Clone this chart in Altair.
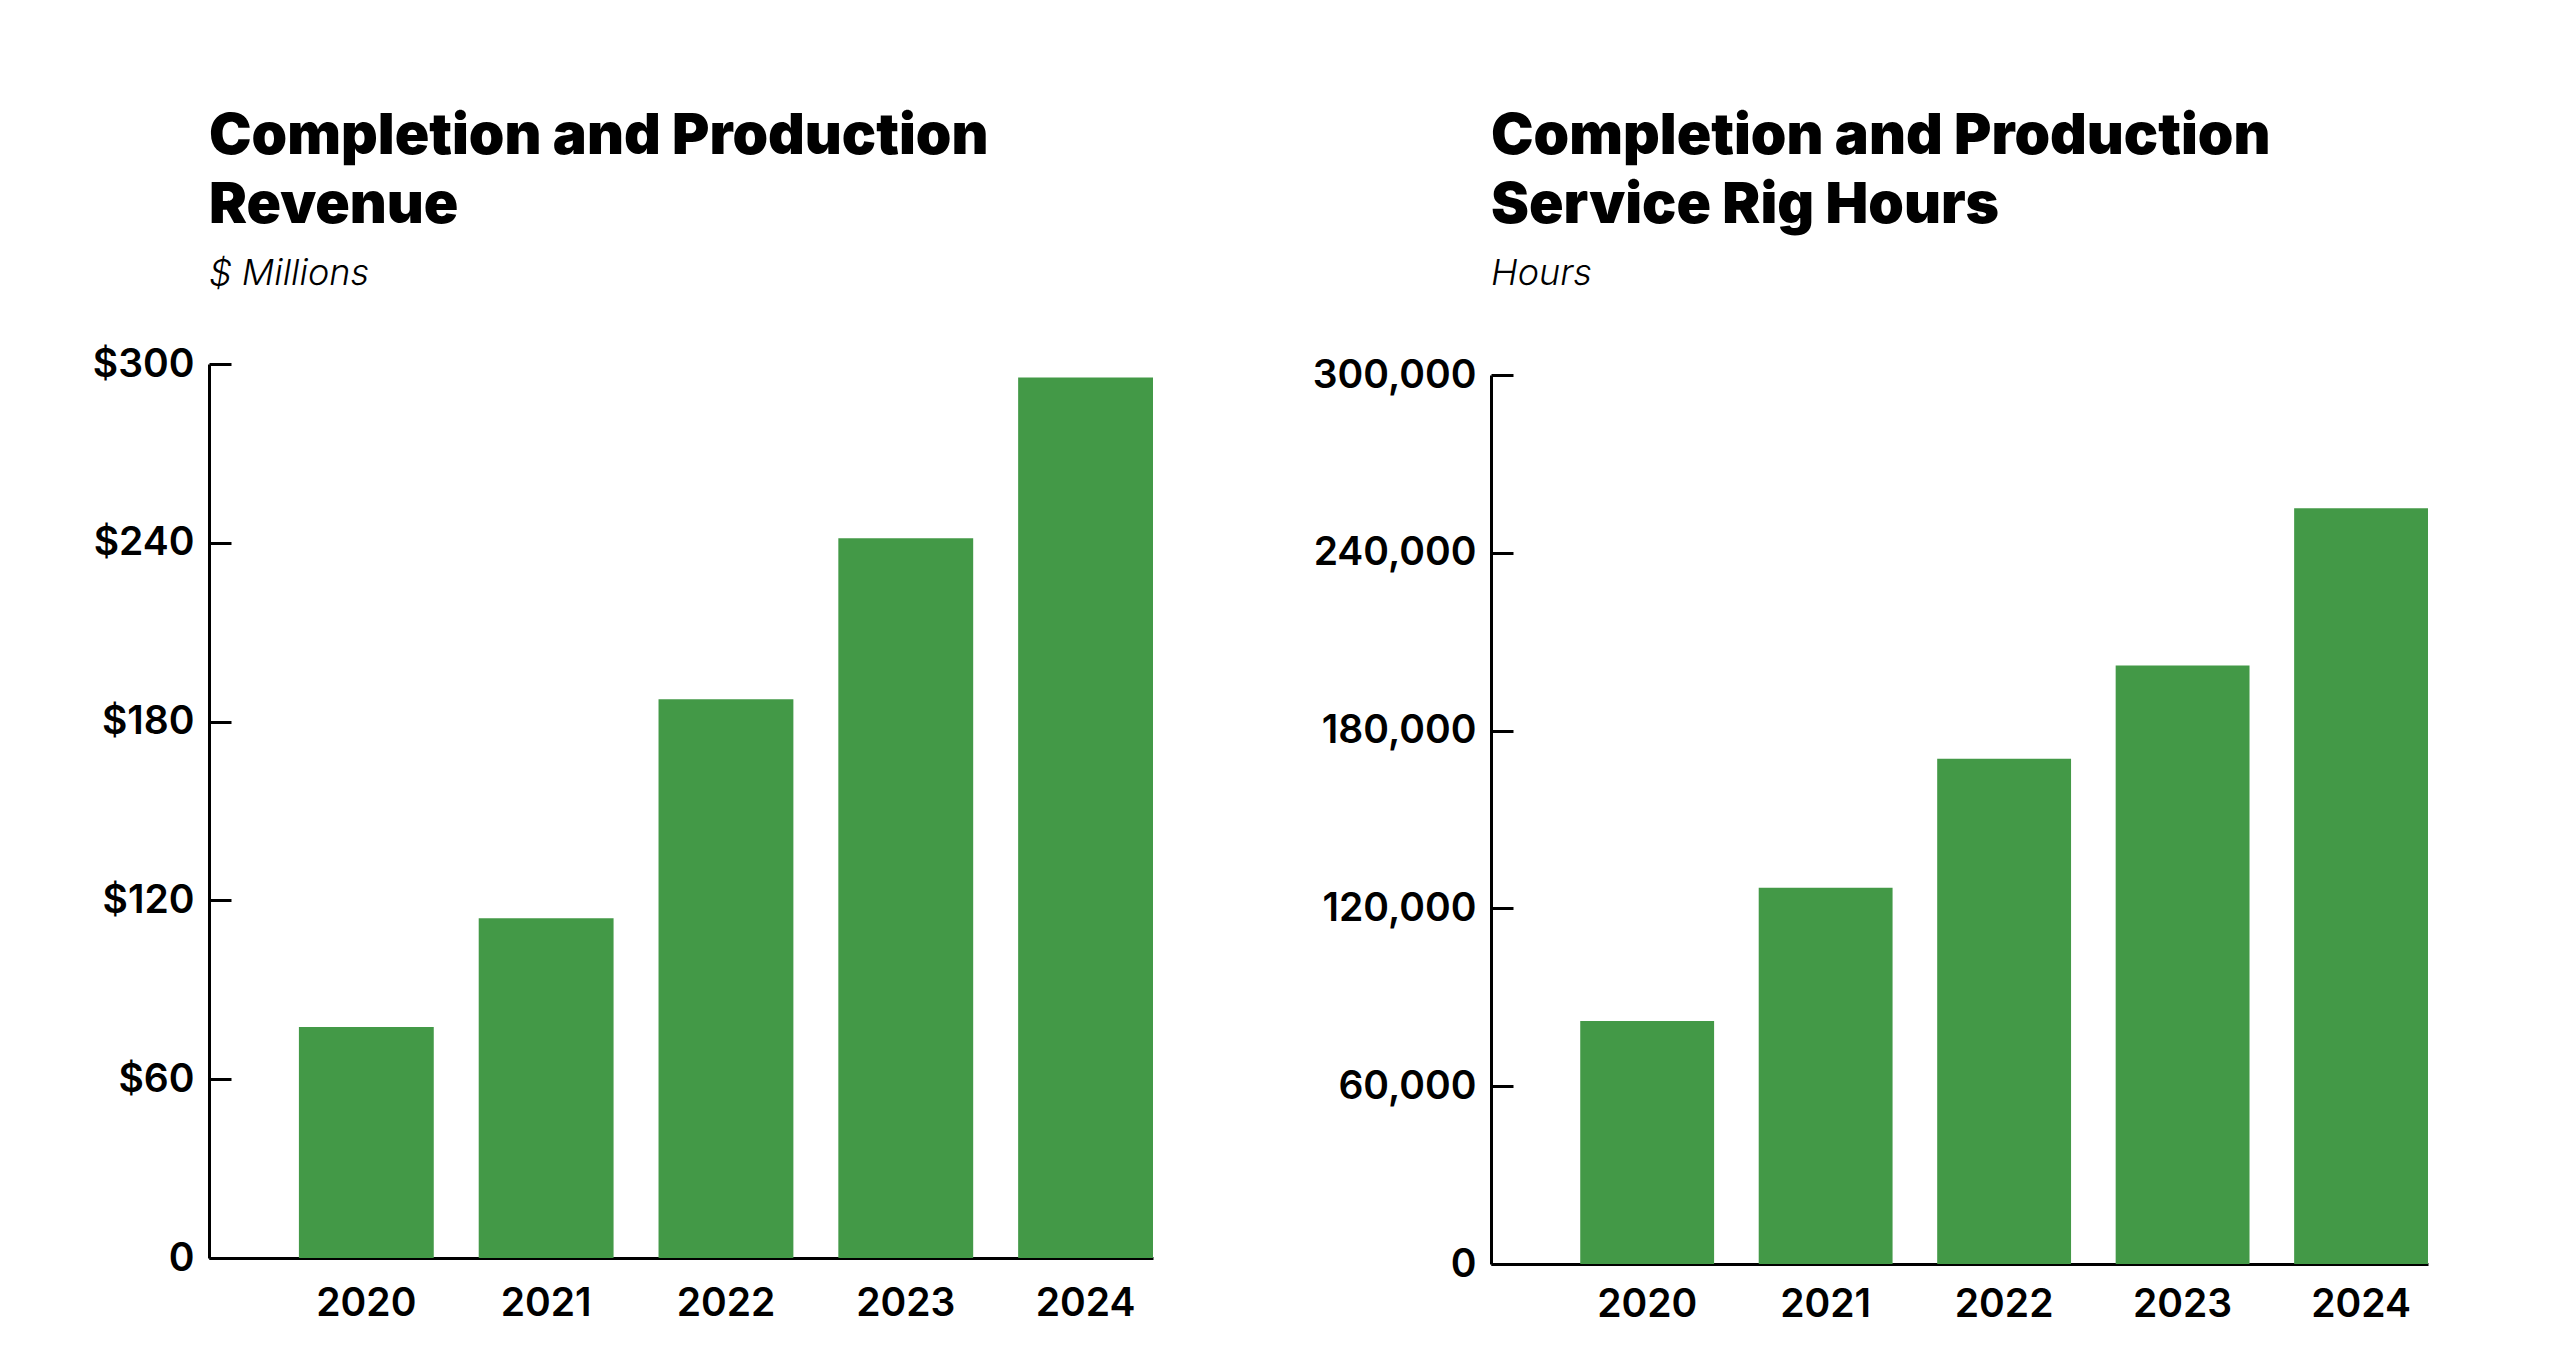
import altair as alt
import pandas as pd

years = ["2020", "2021", "2022", "2023", "2024"]
revenue = [77.5, 114, 187.5, 241.5, 295.5]          # $ Millions
rig_hours = [82000, 127000, 170500, 202000, 255000]  # Hours

rev_ticks = [0, 60, 120, 180, 240, 300]
hour_ticks = [0, 60000, 120000, 180000, 240000, 300000]

GREEN = "#439947"
FONT = "Inter"
LABEL_SIZE = 39
NO_VIEW = alt.ViewBackground(stroke="transparent", strokeWidth=0, fill="transparent")


def panel(values, ticks, title_lines, subtitle, label_expr, W, H, top_gap, xpad):
    df = pd.DataFrame({"year": years, "value": values})
    ymax = ticks[-1]
    yscale = alt.Scale(domain=[0, ymax], nice=False, zero=True, range=[H, top_gap])
    xenc = alt.X(
        "year:N",
        sort=years,
        title=None,
        scale=alt.Scale(paddingInner=0.25, paddingOuter=0.25, align=1),
        axis=alt.Axis(
            orient="bottom", domain=True, domainColor="black", domainWidth=3,
            ticks=False, grid=False, labelAngle=0, labelPadding=xpad,
            labelFont=FONT, labelFontSize=LABEL_SIZE, labelFontWeight=600, labelColor="black",
        ),
    )
    bars = alt.Chart(df).mark_bar(color=GREEN).encode(
        x=xenc,
        y=alt.Y(
            "value:Q", scale=yscale, title=None,
            axis=alt.Axis(
                orient="left", values=ticks, labelExpr=label_expr,
                domain=True, domainColor="black", domainWidth=3,
                ticks=False, grid=False, labelPadding=15,
                labelFont=FONT, labelFontSize=LABEL_SIZE, labelFontWeight=600, labelColor="black",
            ),
        ),
    )
    inner_ticks = alt.Chart(df).mark_bar(opacity=0).encode(
        x=xenc,
        y=alt.Y(
            "value:Q", scale=yscale, title=None,
            axis=alt.Axis(
                orient="right", offset=-W, values=ticks, labels=False,
                domain=False, grid=False, ticks=True, tickSize=22, tickWidth=3,
                tickColor="black",
            ),
        ),
    )
    return (
        alt.layer(bars, inner_ticks)
        .resolve_scale(y="shared")
        .resolve_axis(y="independent")
        .properties(
            width=W, height=H, view=NO_VIEW,
            title=alt.TitleParams(
                text=title_lines, subtitle=subtitle, anchor="start", frame="group",
                font=FONT, fontSize=57, fontWeight=900, lineHeight=69, color="black",
                subtitleFont=FONT, subtitleFontSize=36, subtitleFontStyle="italic",
                subtitleFontWeight=300, subtitleColor="black", subtitlePadding=22,
                offset=52 + top_gap,
            ),
        )
    )


left = panel(revenue, rev_ticks, ["Completion and Production", "Revenue"], "$ Millions",
             "datum.value == 0 ? '0' : '$' + datum.value", 944, 894, 0, 26)
right = panel(rig_hours, hour_ticks, ["Completion and Production", "Service Rig Hours"], "Hours",
              "format(datum.value, ',')", 937, 900, 11, 21)

chart = (
    alt.hconcat(left, right, spacing=159)
    .properties(padding={"left": 84, "top": 100, "right": 5, "bottom": 5})
    .configure_view(stroke="transparent", strokeWidth=0)
    .configure(background="white")
)

chart.save("out.html", embed_options={"renderer": "svg", "actions": False})
